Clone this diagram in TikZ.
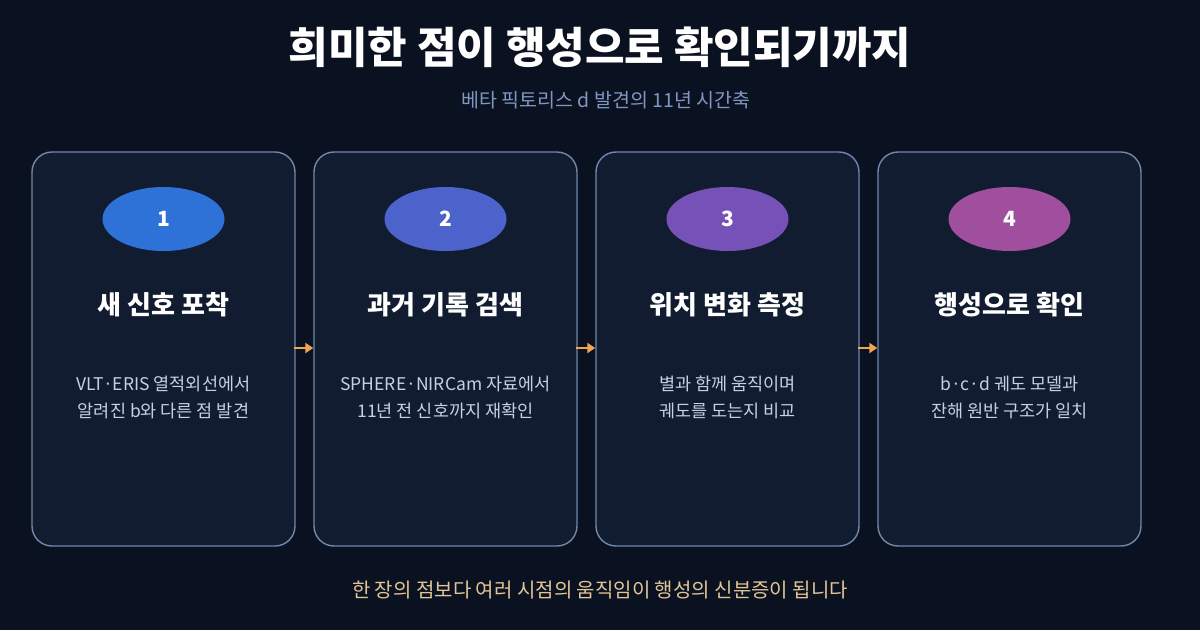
\documentclass[tikz,border=0pt]{standalone}
\usepackage{fontspec}
\setmainfont{Noto Sans CJK KR}
\usetikzlibrary{arrows.meta,shapes.geometric}
\definecolor{bg}{HTML}{0A1120}
\definecolor{cardfill}{HTML}{111C31}
\definecolor{cardline}{HTML}{7088AA}
\definecolor{subc}{HTML}{8196C0}
\definecolor{bodyc}{HTML}{C6D0E0}
\definecolor{footc}{HTML}{E2C596}
\definecolor{arrc}{HTML}{F2A550}
\definecolor{cA}{HTML}{2E72D8}
\definecolor{cB}{HTML}{4B63CB}
\definecolor{cC}{HTML}{7651B8}
\definecolor{cD}{HTML}{A04E9E}
\tikzset{
  card/.style={draw=cardline, line width=1.4pt, fill=cardfill, rounded corners=20pt, minimum width=263pt, minimum height=394pt, inner sep=0pt},
  badge/.style={ellipse, minimum width=122pt, minimum height=64pt, inner sep=0pt, text=white, font=\fontsize{21}{24}\selectfont\bfseries},
  ctitle/.style={text=white, font=\fontsize{26}{30}\selectfont\bfseries},
  cbody/.style={text=bodyc, align=center, font=\fontsize{17.5}{27}\selectfont},
  flow/.style={draw=arrc, line width=2.4pt, -{Triangle[length=8pt,width=10pt]}}
}
\begin{document}
\begin{tikzpicture}[x=1pt,y=-1pt]
\fill[bg] (0,0) rectangle (1200,630);
\useasboundingbox (0,0) rectangle (1200,630);
\node[text=white, font=\fontsize{43}{50}\selectfont\bfseries] (title) at (600,47) {희미한 점이 행성으로 확인되기까지};
\node[text=subc, font=\fontsize{19.5}{22}\selectfont] (sub) at (606,100) {베타 픽토리스 d 발견의 11년 시간축};
\foreach \i/\x/\c/\t/\la/\lb in {
  1/163.5/cA/새 신호 포착/VLT·ERIS 열적외선에서/알려진 b와 다른 점 발견,
  2/445.5/cB/과거 기록 검색/SPHERE·NIRCam 자료에서/11년 전 신호까지 재확인,
  3/727.5/cC/위치 변화 측정/별과 함께 움직이며/궤도를 도는지 비교,
  4/1009.5/cD/행성으로 확인/b·c·d 궤도 모델과/잔해 원반 구조가 일치}{
  \node[card] (card\i) at (\x,349) {};
  \node[badge, fill=\c] (badge\i) at (\x,219) {\i};
  \node[ctitle] (ct\i) at (\x,305) {\t};
  \node[cbody] (cb\i) at (\x,397) {\la\\\lb};
}
\foreach \a/\b in {1/2,2/3,3/4}{
  \draw[flow] ([xshift=-2pt,yshift=1pt]card\a.east) -- ([yshift=1pt]card\b.west);
}
\node[text=footc, font=\fontsize{20}{24}\selectfont] (foot) at (600,590) {한 장의 점보다 여러 시점의 움직임이 행성의 신분증이 됩니다};
\end{tikzpicture}
\end{document}
